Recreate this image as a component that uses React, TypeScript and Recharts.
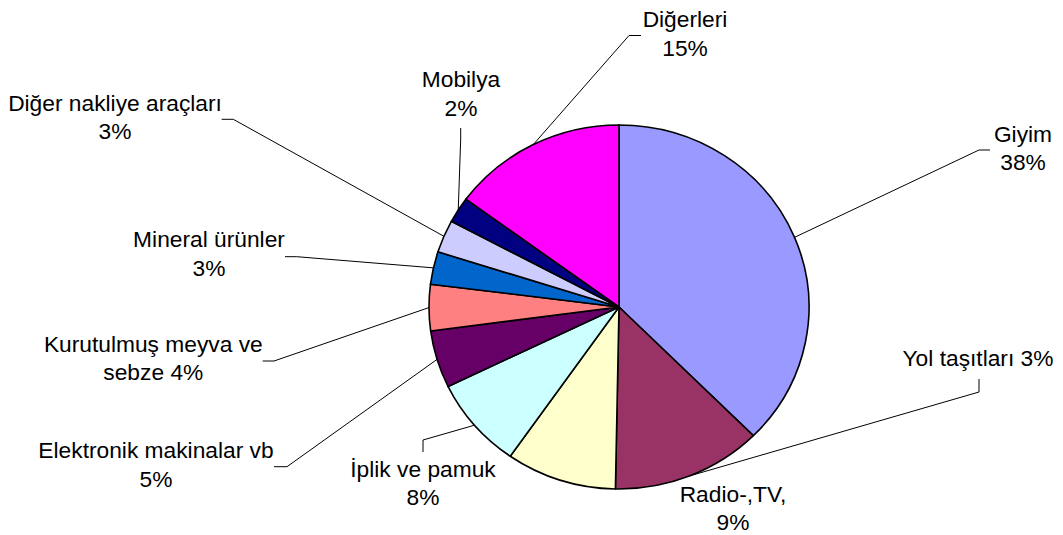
import React from 'react';
import { PieChart, Pie, Cell } from 'recharts';

const categories = ['Giyim', 'Yol taşıtları', 'Radio-,TV', 'İplik ve pamuk', 'Elektronik makinalar vb', 'Kurutulmuş meyva ve sebze', 'Mineral ürünler', 'Diğer nakliye araçları', 'Mobilya', 'Diğerleri'];
const values = [37.5, 12.8, 9.4, 8.1, 5.1, 4.1, 2.9, 2.9, 2.3, 14.9];
const colors = ['#9999FF', '#993366', '#FFFFCC', '#CCFFFF', '#660066', '#FF8080', '#0066CC', '#CCCCFF', '#000080', '#FF00FF'];
const labelTexts = [
  ['Giyim', '38%'],
  ['Yol taşıtları 3%'],
  ['Radio-,TV,', '9%'],
  ['İplik ve pamuk', '8%'],
  ['Elektronik makinalar vb', '5%'],
  ['Kurutulmuş meyva ve', 'sebze 4%'],
  ['Mineral ürünler', '3%'],
  ['Diğer nakliye araçları', '3%'],
  ['Mobilya', '2%'],
  ['Diğerleri', '15%'],
];

// label placement (layout only)
const labelLayout: { x: number; y: number; leader: number[][] | null }[] = [
  { x: 1023, y: 141.7, leader: [[990, 150], [979, 150]] },
  { x: 978, y: 366, leader: [[979, 379], [979, 392]] },
  { x: 733, y: 501.7, leader: null },
  { x: 423, y: 476.7, leader: [[423, 452], [423, 440]] },
  { x: 156, y: 458.3, leader: [[274, 466.7], [287, 466.7]] },
  { x: 153.3, y: 351.7, leader: [[262.7, 361], [274, 361]] },
  { x: 209, y: 247.3, leader: [[285, 256.7], [296.7, 256.7]] },
  { x: 115, y: 110.7, leader: [[221.7, 119.3], [233.3, 119.3]] },
  { x: 461, y: 87.3, leader: [[460.7, 128], [460.7, 139]] },
  { x: 685, y: 27, leader: [[641, 35.5], [629, 35.5]] },
];

const data = categories.map((name, i) => ({ name, value: values[i] }));

const RAD = Math.PI / 180;
const XS = 1.044; // horizontal stretch of the pie
const LINE_H = 28.5;
const FONT = '"Liberation Sans", Arial, sans-serif';

const EllipseSector = (props: any) => {
  const { cx, cy, outerRadius, startAngle, endAngle, fill } = props;
  const rx = outerRadius * XS;
  const ry = outerRadius;
  const p = (a: number) => [cx + rx * Math.cos(-a * RAD), cy + ry * Math.sin(-a * RAD)];
  const [x1, y1] = p(startAngle);
  const [x2, y2] = p(endAngle);
  const large = Math.abs(startAngle - endAngle) > 180 ? 1 : 0;
  const sweep = startAngle > endAngle ? 1 : 0;
  return (
    <path
      d={`M${cx},${cy}L${x1},${y1}A${rx},${ry} 0 ${large} ${sweep} ${x2},${y2}Z`}
      fill={fill}
      stroke="#000"
      strokeWidth={1.6}
      strokeLinejoin="round"
    />
  );
};

const renderLabel = (props: any) => {
  const { cx, cy, midAngle, outerRadius, index } = props;
  const lay = labelLayout[index];
  const lines = labelTexts[index];
  const ex = cx + outerRadius * XS * Math.cos(-midAngle * RAD);
  const ey = cy + outerRadius * Math.sin(-midAngle * RAD);
  return (
    <g key={`lbl-${index}`}>
      {lay.leader && (
        <polyline
          points={[...lay.leader, [ex, ey]].map((q) => q.join(',')).join(' ')}
          fill="none"
          stroke="#000"
          strokeWidth={1}
        />
      )}
      {lines.map((t, k) => (
        <text
          key={k}
          transform={`translate(${lay.x} ${lay.y + k * LINE_H}) scale(1.035 1)`}
          x={0}
          y={0}
          textAnchor="middle"
          fontFamily={FONT}
          fontSize={22}
          fill="#000"
        >
          {t}
        </text>
      ))}
    </g>
  );
};

export default function App() {
  return (
    <div style={{ position: 'absolute', left: 0, top: 0, width: 1063, height: 535, background: '#fff' }}>
      <PieChart width={1063} height={535} margin={{ top: 0, right: 0, bottom: 0, left: 0 }}>
        <Pie
          data={data}
          dataKey="value"
          nameKey="name"
          cx={619}
          cy={307}
          outerRadius={182}
          startAngle={90}
          endAngle={-270}
          stroke="#000"
          strokeWidth={1.6}
          isAnimationActive={false}
          shape={EllipseSector}
          label={renderLabel}
          labelLine={false}
        >
          {data.map((d, i) => (
            <Cell key={d.name} fill={colors[i]} />
          ))}
        </Pie>
      </PieChart>
    </div>
  );
}
